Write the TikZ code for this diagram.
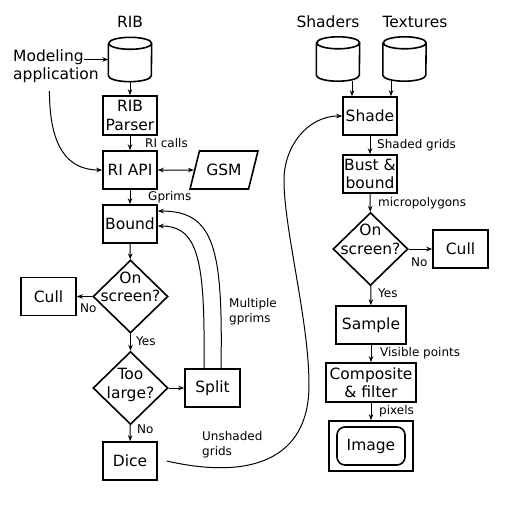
\documentclass[tikz,border=0pt]{standalone}
\usepackage{fontspec}
\setmainfont{DejaVu Sans}
\usetikzlibrary{shapes.geometric,arrows.meta}
\newcommand\bigf{\fontsize{15.5}{18.5}\selectfont}
\newcommand\smf{\fontsize{12}{15}\selectfont}
\newcommand\cylshape[1]{\draw[line width=1.6pt] ([yshift=-6pt]#1.north west) -- ([yshift=6pt]#1.south west) arc[start angle=180,end angle=360,x radius=21.5pt,y radius=6pt] -- ([yshift=-6pt]#1.north east) arc[start angle=0,end angle=360,x radius=21.5pt,y radius=6pt];}
\begin{document}
\begin{tikzpicture}[x=1pt,y=-1pt,
 box/.style={draw,line width=1.6pt,inner sep=0,align=center,font=\bigf,minimum width=54pt,minimum height=38pt},
 diam/.style={diamond,draw,line width=1.6pt,inner sep=0,minimum width=75pt,minimum height=73pt},
 cyl/.style={inner sep=0,minimum width=43pt,minimum height=44pt},
 txt/.style={font=\bigf,inner sep=0,align=center},
 lbl/.style={font=\smf,inner sep=0,anchor=west,align=left},
 arr/.style={-{Stealth[length=6pt,width=4.5pt]},line width=1pt},
 dbl/.style={{Stealth[length=6pt,width=4.5pt]}-{Stealth[length=6pt,width=4.5pt]},line width=1pt},
 ]
\fill[white] (0,0) rectangle (512,512);
\useasboundingbox (0,0) rectangle (512,512);
% left column
\node[txt] (ribl) at (130,22) {RIB};
\node[cyl] (rib) at (130,59.5) {};
\cylshape{rib}
\node[txt,anchor=west] (m1) at (13,57.5) {Modeling};
\node[txt,anchor=west] (m2) at (13,75.5) {application};
\node[box,minimum height=39pt] (parser) at (130,115.5) {RIB\\Parser};
\node[box] (riapi) at (130,170) {RI API};
\node[trapezium,trapezium left angle=60,trapezium right angle=120,trapezium stretches=true,draw,line width=1.6pt,minimum width=68pt,minimum height=38pt,font=\bigf,inner sep=0] (gsm) at (224,170) {GSM};
\node[box] (bound) at (130,224) {Bound};
\node[diam] (ons) at (130.5,296.5) {};
\node[txt] (onst) at ([yshift=9.5pt]ons.center) {On\\screen?};
\node[box,minimum width=55pt] (cull) at (48.5,296.5) {Cull};
\node[diam] (tl) at (130.5,388) {};
\node[txt] (tlt) at ([yshift=3pt]tl.center) {Too\\large?};
\node[box,minimum width=55pt] (split) at (212.5,388) {Split};
\node[box] (dice) at (130,461) {Dice};
% right column
\node[txt] (shl) at (328,22) {Shaders};
\node[txt] (txl) at (415,22) {Textures};
\node[cyl] (shaders) at (338,59) {};
\cylshape{shaders}
\node[cyl] (textures) at (404.5,59) {};
\cylshape{textures}
\node[box] (shade) at (370,116) {Shade};
\node[box] (bust) at (370,174) {Bust \&\\bound};
\node[diam] (ons2) at (370.5,249) {};
\node[txt] (ons2t) at ([yshift=9.5pt]ons2.center) {On\\screen?};
\node[box,minimum width=55pt] (cull2) at (460.5,249) {Cull};
\node[box,minimum width=70pt] (sample) at (371,325) {Sample};
\node[box,minimum width=90pt,minimum height=39pt] (comp) at (371,382.5) {Composite\\\& filter};
\node[draw,line width=1.6pt,minimum width=84pt,minimum height=50pt,inner sep=0] (imgf) at (371,446) {};
\node[box,rounded corners=8pt,minimum width=68pt,minimum height=38pt] (img) at (371,446) {Image};
% labels
\node[lbl] at (145,143) {RI calls};
\node[lbl] at (148,197) {Gprims};
\node[lbl] at (80,308) {No};
\node[lbl] at (136,341) {Yes};
\node[lbl] at (137,429) {No};
\node[lbl] at (229,312) {Multiple\\gprims};
\node[lbl] at (202,445) {Unshaded\\grids};
\node[lbl] at (377,145) {Shaded grids};
\node[lbl] at (378,203) {micropolygons};
\node[lbl] at (411,262) {No};
\node[lbl] at (378,293) {Yes};
\node[lbl] at (380,353) {Visible points};
\node[lbl] at (379,411) {pixels};
% connectors left
\draw[arr] ([yshift=-2pt]m1.east) -- ([yshift=-2pt]m1.east -| rib.west);
\draw[arr] ([xshift=-6.5pt,yshift=-8pt]m2.south) .. controls +(0,55) and +(-35,0) .. (riapi.west);
\draw[arr] (rib) -- (parser);
\draw[arr] (parser) -- (riapi);
\draw[dbl] (riapi) -- (gsm);
\draw[arr] (riapi) -- (bound);
\draw[arr] (bound) -- (ons);
\draw[arr] (ons) -- (cull);
\draw[arr] (ons) -- (tl);
\draw[arr] (tl) -- (split);
\draw[arr] (tl) -- (dice);
\draw[arr] ([xshift=8.5pt]split.north) .. controls +(2,-119) and +(57,0) .. ([yshift=13pt]bound.east);
\draw[arr] ([xshift=-8.5pt]split.north) .. controls +(1,-104) and +(42,0) .. ([yshift=-2pt]bound.east);
\draw[arr] ([xshift=9pt]dice.east) .. controls (250,480) and (309,460) .. (309,385) .. controls (309,320) and (284,230) .. (284,180) .. controls (284,147) and (307,116) .. (shade.west);
% connectors right
\coordinate (sa) at ([xshift=-18pt]shade.north);
\coordinate (ta) at ([xshift=21pt]shade.north);
\draw[arr] (sa |- shaders.south) -- (sa);
\draw[arr] (ta |- textures.south) -- (ta);
\draw[arr] (shade) -- (bust);
\draw[arr] (bust) -- (ons2);
\draw[arr] (ons2) -- (cull2);
\draw[arr] (ons2) -- (sample);
\draw[arr] (sample) -- (comp);
\draw[arr] (comp) -- (imgf);
\end{tikzpicture}
\end{document}
